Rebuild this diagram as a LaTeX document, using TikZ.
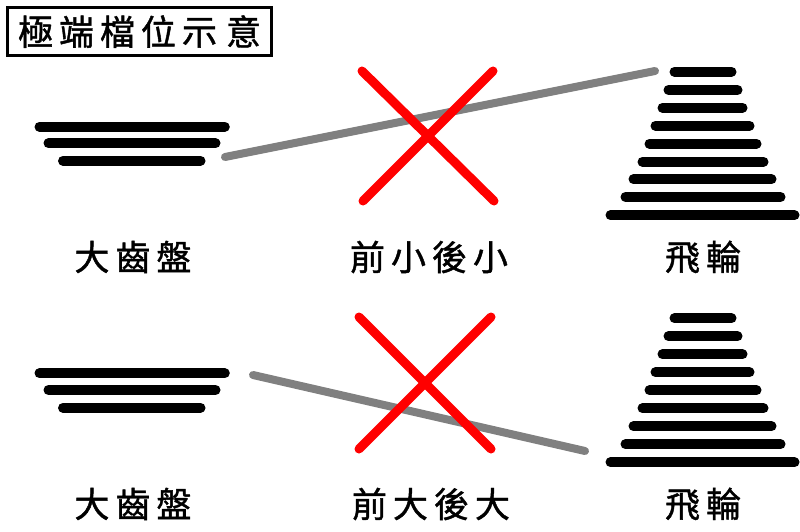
\documentclass[tikz,border=0pt]{standalone}
\usepackage{fontspec}
\newfontfamily\cjk[FakeBold=1.2]{Noto Sans CJK TC}
\newcommand{\zg}{\kern6pt}
\begin{document}
\begin{tikzpicture}[x = 1pt,y = -1pt,
  gear/.style = {black,line width = 10pt,line cap = round},
  chain/.style = {gray,line width = 8pt,line cap = round},
  cross/.style = {red,line width = 9pt,line cap = round},
  lbl/.style = {font = \cjk\fontsize{35}{35}\selectfont,inner sep = 0pt}]
\useasboundingbox (0,0) rectangle (800,532);
\node[draw,line width = 3pt,minimum width = 264.6pt,minimum height = 48.3pt,inner sep = 0pt,
font = \cjk\fontsize{35}{35}\selectfont] (title) at (139.5,31.6) {極\zg 端\zg 檔\zg 位\zg 示\kern9pt 意};
%
\draw[gear] (39.5,126.7) -- (224.8,126.7);\draw[gear] (48.5,143.3) -- (215.5,143.3);\draw[gear] (63,160.7) -- (200.5,160.7);
\draw[gear] (674.5,71.7) -- (731.5,71.7);\draw[gear] (668.5,90) -- (737.5,90);\draw[gear] (662.5,107.7) -- (742.5,107.7);
\draw[gear] (655.5,125.7) -- (749.5,125.7);\draw[gear] (649.5,143.7) -- (756.5,143.7);\draw[gear] (642.5,161.7) -- (763.5,161.7);
\draw[gear] (633.5,179.3) -- (771.5,179.3);\draw[gear] (625.5,197) -- (780.5,197);\draw[gear] (610.5,215.3) -- (794.5,215.3);
\coordinate (ring1) at (225,157);\coordinate (cog1) at (655,71);
\draw[chain] (ring1) -- (cog1);
\draw[cross] (362,71) -- (494,201);\draw[cross] (493,71) -- (363,201);
\node[lbl] (dachi1) at (133,257) {大\zg 齒\zg 盤};\node[lbl] (qianhou1) at (429,257) {前\zg 小\zg 後\zg 小};
\node[lbl] (feilun1) at (703,257) {飛\zg 輪};
%
\draw[gear] (39.5,373.3) -- (224.8,373.3);\draw[gear] (48.5,390) -- (215.5,390);\draw[gear] (63,407.7) -- (200.5,407.7);
\draw[gear] (674.5,318.3) -- (731.5,318.3);\draw[gear] (668.5,336.3) -- (737.5,336.3);\draw[gear] (662.5,354.3) -- (742.5,354.3);
\draw[gear] (655.5,372.3) -- (749.5,372.3);\draw[gear] (649.5,390.3) -- (756.5,390.3);\draw[gear] (642.5,408.3) -- (763.5,408.3);
\draw[gear] (633.5,426.3) -- (771.5,426.3);\draw[gear] (625.5,444.3) -- (780.5,444.3);\draw[gear] (610.5,462.3) -- (794.5,462.3);
\coordinate (ring2) at (253,375);\coordinate (cog2) at (585,451);
\draw[chain] (ring2) -- (cog2);
\draw[cross] (359,317) -- (491,449);\draw[cross] (491,317) -- (359,449);
\node[lbl] (dachi2) at (133,504) {大\zg 齒\zg 盤};\node[lbl] (qianhou2) at (431,504) {前\zg 大\zg 後\zg 大};
\node[lbl] (feilun2) at (703,504) {飛\zg 輪};
\end{tikzpicture}
\end{document}
